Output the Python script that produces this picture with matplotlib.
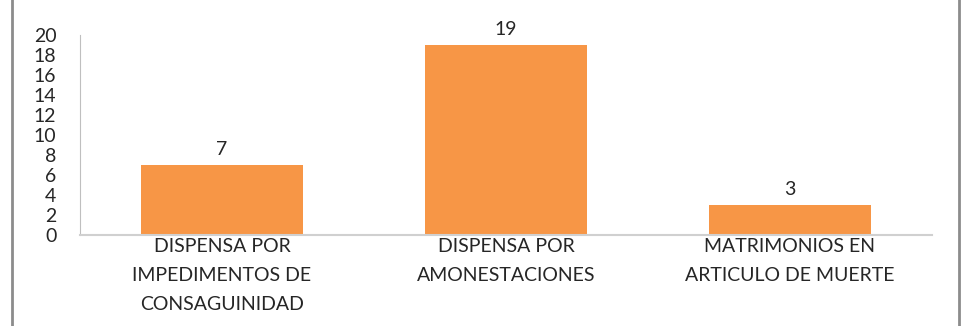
import matplotlib
import matplotlib.pyplot as plt
import numpy as np

matplotlib.use("Agg")

categories = [
    "DISPENSA POR\nIMPEDIMENTOS DE\nCONSAGUINIDAD",
    "DISPENSA POR\nAMONESTACIONES",
    "MATRIMONIOS EN\nARTICULO DE MUERTE",
]
values = [7, 19, 3]
y_ticks = list(range(0, 21, 2))

BAR_COLOR = "#F79646"
TEXT_COLOR = "#262626"

plt.rcParams["font.family"] = ["Lato", "DejaVu Sans"]

W, H = 961, 326
fig = plt.figure(figsize=(W / 100, H / 100), dpi=100)
ax = fig.add_axes([80 / W, (H - 235) / H, (932 - 80) / W, (235 - 35) / H])

x = np.arange(len(categories))
bars = ax.bar(x, values, width=0.57, color=BAR_COLOR, zorder=2)

for rect, v in zip(bars, values):
    ax.annotate(str(v), (rect.get_x() + rect.get_width() / 2, v),
                xytext=(0, 5), textcoords="offset points",
                ha="center", va="bottom", fontsize=14, color=TEXT_COLOR)

ax.set_xlim(-0.5, len(categories) - 0.5)
ax.set_ylim(0, 20)
ax.set_yticks(y_ticks)
ax.set_xticks(x)
ax.set_xticklabels(categories, fontsize=14, color=TEXT_COLOR, linespacing=1.88)
ax.tick_params(axis="y", length=0, pad=17, labelsize=14, labelcolor=TEXT_COLOR)
ax.tick_params(axis="x", length=0, pad=2)

for side in ("top", "right"):
    ax.spines[side].set_visible(False)
ax.spines["left"].set_color("#BFBFBF")
ax.spines["bottom"].set_color("#D0D0D0")
ax.spines["bottom"].set_linewidth(1.5)

# outer frame lines on both sides
fig.add_artist(plt.Line2D([12 / W, 12 / W], [0, 1], color="#8C8C8C", lw=2))
fig.add_artist(plt.Line2D([959 / W, 959 / W], [0, 1], color="#8C8C8C", lw=2))

fig.savefig("out.png", dpi=100)
